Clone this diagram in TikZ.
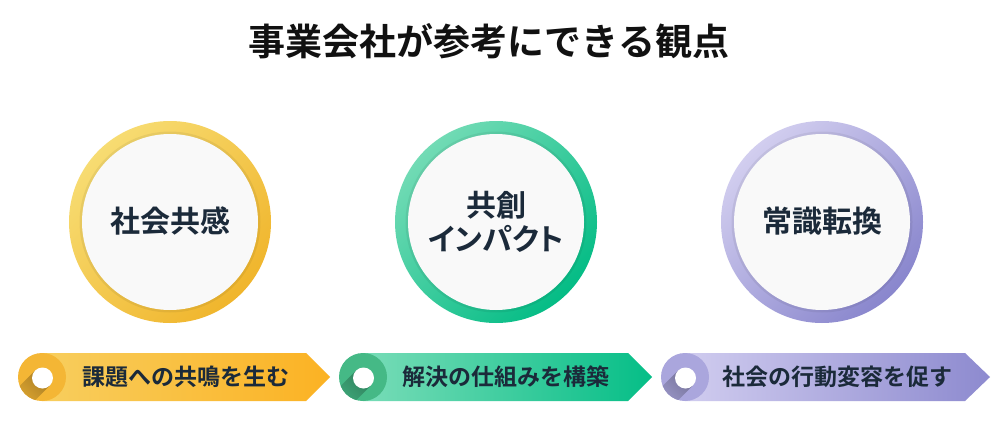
\documentclass[tikz,border=0pt]{standalone}
\usepackage{fontspec}
\setmainfont{Noto Sans CJK JP}[BoldFont={Noto Sans CJK JP Bold}]
\newfontfamily\jppalt{Noto Sans CJK JP}[BoldFont={Noto Sans CJK JP Bold},RawFeature=+palt]
\usetikzlibrary{fadings}
\definecolor{txt}{HTML}{1B2A3A}
\definecolor{ttl}{HTML}{111111}
\definecolor{innerc}{HTML}{F9F9F9}
\definecolor{ya}{HTML}{F7DC72}
\definecolor{yb}{HTML}{F0B52C}
\definecolor{ga}{HTML}{72DBB5}
\definecolor{gb}{HTML}{04BC85}
\definecolor{pa}{HTML}{D2CEEF}
\definecolor{pb}{HTML}{8986CD}
\definecolor{yl}{HTML}{F8CE5E}
\definecolor{yr}{HTML}{FBB223}
\definecolor{yc}{HTML}{F4B635}
\definecolor{gl}{HTML}{78DCB7}
\definecolor{gr}{HTML}{05BE87}
\definecolor{gc}{HTML}{45B986}
\definecolor{pl}{HTML}{D0CCEF}
\definecolor{pr}{HTML}{8D8ACF}
\definecolor{pc}{HTML}{AAA6DD}
\tikzset{
  circtext/.style={text=txt, font=\bfseries\fontsize{30}{34}\selectfont, align=center, inner sep=0pt},
  bantext/.style={text=txt, font=\bfseries\fontsize{23}{25}\selectfont, anchor=west, inner sep=0pt},
  titletext/.style={text=ttl, font=\bfseries\fontsize{37}{40}\selectfont, inner sep=0pt}
}
\newcommand{\ringdraw}[3]{%
  \shade[top color=#2, bottom color=#3, shading angle=45] (#1) circle (101);
  \fill[black, opacity=0.06] (#1) circle (90.5);
  \fill[innerc] (#1) circle (88);
}
\newcommand{\bannerdraw}[7]{%
  \shade[left color=#4, right color=#5] (#1,353) -- (#2,353) -- (#3,377) -- (#2,401) -- (#1,401) -- cycle;
  \fill[#6] (#1,377) circle (24);
  \begin{scope}
    \clip (#1,377) circle (24);
    \shade[top color=#6!70!black, bottom color=#6, shading angle=-45]
      (#1+7.9,385.5) -- (#1-6.9,370.5) -- (#1-36.9,400.5) -- (#1-22.1,415.5) -- cycle;
  \end{scope}
  \fill[white] (#1+0.5,378) circle (10.5);
}
\begin{document}
\begin{tikzpicture}[x=1pt,y=-1pt]
\useasboundingbox (0,0) rectangle (1000,420);
\fill[white] (0,0) rectangle (1000,420);

\node[titletext] (title) at (489,41) {事業会社が参考にできる観点};

\ringdraw{170,222}{ya}{yb}
\ringdraw{496,222}{ga}{gb}
\ringdraw{822,222}{pa}{pb}

\node[circtext] (c1) at (170,221) {社会共感};
\node[circtext] (c2) at (496,222) {共創\\{\jppalt インパクト}};
\node[circtext] (c3) at (822,221) {常識転換};

\bannerdraw{42}{306}{330}{yl}{yr}{yc}{}
\bannerdraw{363}{628}{652}{gl}{gr}{gc}{}
\bannerdraw{685}{965}{990}{pl}{pr}{pc}{}

\node[bantext] (b1) at (82,377) {課題への共鳴を生む};
\node[bantext] (b2) at (402,377) {解決の仕組みを構築};
\node[bantext] (b3) at (722,377) {社会の行動変容を促す};
\end{tikzpicture}
\end{document}
